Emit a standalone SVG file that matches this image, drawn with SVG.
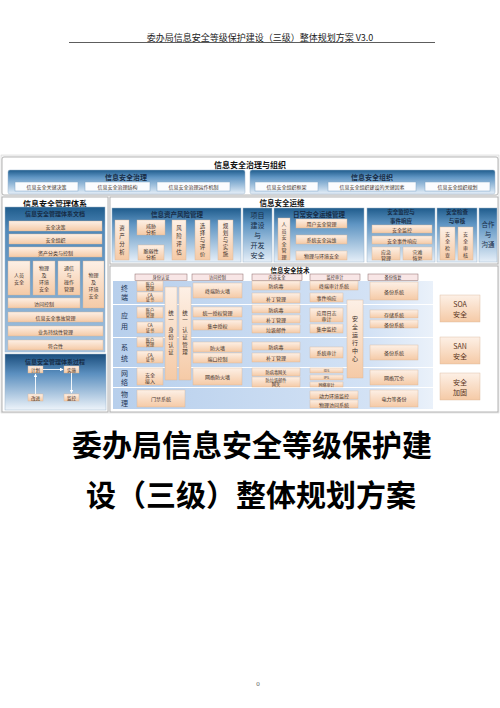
<svg xmlns="http://www.w3.org/2000/svg" width="500" height="708" viewBox="0 0 500 708">
<defs>
<linearGradient id="gPanel" x1="0" y1="0" x2="0" y2="1">
<stop offset="0" stop-color="#1f5c8c"/><stop offset="0.3" stop-color="#5f95c3"/><stop offset="1" stop-color="#e6eff8"/>
</linearGradient>
<linearGradient id="gMgmt" x1="0" y1="0" x2="0" y2="1">
<stop offset="0" stop-color="#1f5c8c"/><stop offset="0.15" stop-color="#4f88b9"/><stop offset="1" stop-color="#a9c6e2"/>
</linearGradient>
<linearGradient id="gProc" x1="0" y1="0" x2="0" y2="1">
<stop offset="0" stop-color="#1a4d7c"/><stop offset="0.35" stop-color="#5b8fbf"/><stop offset="1" stop-color="#eef4fa"/>
</linearGradient>
<linearGradient id="gPeach" x1="0" y1="0" x2="0" y2="1">
<stop offset="0" stop-color="#fdf0e6"/><stop offset="1" stop-color="#f5caa6"/>
</linearGradient>
<linearGradient id="gBand" x1="0" y1="0" x2="1" y2="0">
<stop offset="0" stop-color="#b7cfec"/><stop offset="0.8" stop-color="#d3e2f5"/><stop offset="1" stop-color="#eaf1fa"/>
</linearGradient>
<marker id="ar" viewBox="0 0 6 6" refX="5" refY="3" markerWidth="4" markerHeight="4" orient="auto"><path d="M0,0 L6,3 L0,6 z" fill="#ffffff"/></marker>
<style>
.fr{fill:#fff;stroke:#a3a3a3;stroke-width:.8}
.pn{fill:url(#gPanel);stroke:#9fb6cc;stroke-width:.5}
.pk{fill:url(#gPeach);stroke:#d8b498;stroke-width:.4}
.wb{fill:#fbfcfe;stroke:#7ea4c6;stroke-width:.5}
.band{fill:url(#gBand)}
.tab{fill:#f8e6e6;stroke:#8a6868;stroke-width:.5}
text{font-family:"Noto Sans CJK SC","Noto Sans",sans-serif;text-anchor:middle;dominant-baseline:central}
.s{font-size:5px;fill:#40302a}
.t{font-size:4.2px;fill:#40302a}
.h{font-size:7px;font-weight:bold;fill:#172c46}
.h8{font-size:8px;font-weight:bold;fill:#111}
.rl{font-size:7px;fill:#1d3354}
.big{font-size:7px;fill:#5a3320}
</style>
</defs>

<g id="page-header">
<text x="260" y="37" style="font-size:9px;fill:#222">委办局信息安全等级保护建设（三级）整体规划方案 V3.0</text>
<line x1="69" y1="42.5" x2="435" y2="42.5" stroke="#333" stroke-width="0.8"/>
</g>

<rect x="1" y="155" width="498" height="258" fill="#f4f4f4" stroke="#d0d0d0" stroke-width="0.5"/>

<g id="governance-org">
<rect class="fr" x="2" y="157" width="496" height="38" rx="2"/>
<text class="h8" x="250" y="164.5">信息安全治理与组织</text>
</g>
<g id="gov">
<rect class="pn" x="8" y="170" width="237" height="24" rx="2"/>
<text class="h" x="126" y="176.5">信息安全治理</text>
<rect class="wb" x="15" y="182" width="63" height="9"/><text class="s" x="46.5" y="186.5">信息安全关键决策</text>
<rect class="wb" x="85" y="182" width="65" height="9"/><text class="s" x="117.5" y="186.5">信息安全治理结构</text>
<rect class="wb" x="157" y="182" width="73" height="9"/><text class="s" x="193.5" y="186.5">信息安全治理运作机制</text>
</g>
<g id="org">
<rect class="pn" x="250" y="170" width="245" height="24" rx="2"/>
<text class="h" x="372" y="176.5">信息安全组织</text>
<rect class="wb" x="255" y="182" width="63" height="9"/><text class="s" x="286.5" y="186.5">信息安全组织框架</text>
<rect class="wb" x="328" y="182" width="88" height="9"/><text class="s" x="372" y="186.5">信息安全组织建设的关键因素</text>
<rect class="wb" x="425" y="182" width="65" height="9"/><text class="s" x="457.5" y="186.5">信息安全组织规划</text>
</g>

<g id="mgmt-system">
<rect class="fr" x="2" y="197" width="106" height="215"/>
<text class="h8" x="55" y="203.5">信息安全管理体系</text>
<rect x="5" y="207" width="100" height="145" fill="url(#gMgmt)" stroke="#9fb6cc" stroke-width=".5"/>
<text class="h" x="55" y="213" style="font-size:6px">信息安全管理体系文档</text>
<rect class="pk" x="9" y="221" width="93" height="10"/><text class="s" x="55.5" y="226">安全决策</text>
<rect class="pk" x="9" y="234" width="93" height="10"/><text class="s" x="55.5" y="239">安全组织</text>
<rect class="pk" x="9" y="247" width="93" height="10"/><text class="s" x="55.5" y="252">资产分类与控制</text>
<rect class="pk" x="8" y="261" width="22" height="34"/>
<text class="s"><tspan x="19" y="274">人员</tspan><tspan x="19" y="281">安全</tspan></text>
<rect class="pk" x="33" y="261" width="22" height="34"/>
<text class="s"><tspan x="44" y="267">物理</tspan><tspan x="44" y="274">及</tspan><tspan x="44" y="281">环境</tspan><tspan x="44" y="288">安全</tspan></text>
<rect class="pk" x="58" y="261" width="22" height="34"/>
<text class="s"><tspan x="69" y="267">通信</tspan><tspan x="69" y="274">与</tspan><tspan x="69" y="281">操作</tspan><tspan x="69" y="288">管理</tspan></text>
<rect class="pk" x="83" y="261" width="21" height="47"/>
<text class="s"><tspan x="93.5" y="274">物理</tspan><tspan x="93.5" y="281">及</tspan><tspan x="93.5" y="288">环境</tspan><tspan x="93.5" y="295">安全</tspan></text>
<rect class="pk" x="8" y="298" width="72" height="10"/><text class="s" x="44" y="303">访问控制</text>
<rect class="pk" x="8" y="312" width="95" height="10"/><text class="s" x="55.5" y="317">信息安全事故管理</text>
<rect class="pk" x="8" y="326" width="95" height="10"/><text class="s" x="55.5" y="331">业务持续性管理</text>
<rect class="pk" x="8" y="340" width="95" height="10"/><text class="s" x="55.5" y="345">符合性</text>
</g>

<g id="mgmt-process">
<rect x="5" y="354" width="101" height="56" fill="url(#gProc)" stroke="#9fb6cc" stroke-width=".5"/>
<text class="h" x="55" y="361" style="font-size:6px">信息安全管理体系过程</text>
<rect class="pk" x="28" y="366" width="15" height="7"/><text class="s" x="35.5" y="369.5" style="font-size:4.5px">计划</text>
<rect class="pk" x="64" y="366" width="15" height="7"/><text class="s" x="71.5" y="369.5" style="font-size:4.5px">实施</text>
<rect class="pk" x="28" y="394" width="15" height="7"/><text class="s" x="35.5" y="397.5" style="font-size:4.5px">改进</text>
<rect class="pk" x="64" y="394" width="15" height="7"/><text class="s" x="71.5" y="397.5" style="font-size:4.5px">监控</text>
</g>

<g id="connectors" fill="none" stroke="#ffffff" stroke-width="0.9">
<line x1="43" y1="369.5" x2="63" y2="369.5" marker-end="url(#ar)"/>
<line x1="71.5" y1="373" x2="71.5" y2="393" marker-end="url(#ar)"/>
<line x1="35.5" y1="394" x2="35.5" y2="374" marker-end="url(#ar)"/>
</g>

<g id="ops">
<rect class="fr" x="110" y="197" width="388" height="67"/>
<text class="h8" x="282" y="202.5" style="font-size:7.5px">信息安全运维</text>
</g>
<g id="risk">
<rect class="pn" x="112" y="208" width="129" height="54"/>
<text class="h" x="177" y="214" style="font-size:6.5px">信息资产风险管理</text>
<rect class="pk" x="115" y="220" width="14" height="40"/>
<text class="s" style="font-size:5.5px"><tspan x="122" y="228">资</tspan><tspan x="122" y="236">产</tspan><tspan x="122" y="244">分</tspan><tspan x="122" y="252">析</tspan></text>
<rect class="pk" x="137" y="220" width="28" height="15"/>
<text class="s"><tspan x="151" y="224.5">威胁</tspan><tspan x="151" y="230.5">分析</tspan></text>
<rect class="pk" x="138" y="245" width="26" height="15"/>
<text class="s"><tspan x="151" y="249.5">脆弱性</tspan><tspan x="151" y="255.5">分析</tspan></text>
<rect class="pk" x="172" y="220" width="14" height="40"/>
<text class="s" style="font-size:5.5px"><tspan x="179" y="228">风</tspan><tspan x="179" y="236">险</tspan><tspan x="179" y="244">评</tspan><tspan x="179" y="252">估</tspan></text>
<rect class="pk" x="195" y="220" width="15" height="40"/>
<text class="s" style="font-size:5.5px"><tspan x="202.5" y="226">选</tspan><tspan x="202.5" y="233">择</tspan><tspan x="202.5" y="240">与</tspan><tspan x="202.5" y="247">评</tspan><tspan x="202.5" y="254">价</tspan></text>
<rect class="pk" x="218" y="220" width="15" height="40"/>
<text class="s" style="font-size:5.5px"><tspan x="225.5" y="226">规</tspan><tspan x="225.5" y="233">划</tspan><tspan x="225.5" y="240">与</tspan><tspan x="225.5" y="247">实</tspan><tspan x="225.5" y="254">施</tspan></text>
</g>
<g id="project-dev">
<rect class="pn" x="243" y="208" width="29" height="54"/>
<text class="h" style="font-size:7px;font-weight:normal"><tspan x="257.5" y="215">项目</tspan><tspan x="257.5" y="225">建设</tspan><tspan x="257.5" y="235">与</tspan><tspan x="257.5" y="245">开发</tspan><tspan x="257.5" y="255">安全</tspan></text>
</g>
<g id="daily-ops">
<rect class="pn" x="274" y="208" width="90" height="54"/>
<text class="h" x="319" y="214" style="font-size:6.5px">日常安全运维管理</text>
<rect class="pk" x="278" y="218" width="12" height="42"/>
<text class="s"><tspan x="284" y="223">人</tspan><tspan x="284" y="229.5">员</tspan><tspan x="284" y="236">安</tspan><tspan x="284" y="242.5">全</tspan><tspan x="284" y="249">管</tspan><tspan x="284" y="255.5">理</tspan></text>
<rect class="pk" x="296" y="219" width="51" height="9"/><text class="s" x="321.5" y="223.5">用户安全管理</text>
<rect class="pk" x="296" y="235" width="51" height="9"/><text class="s" x="321.5" y="239.5">系统安全运维</text>
<rect class="pk" x="296" y="251" width="51" height="9"/><text class="s" x="321.5" y="255.5">物理与环境安全</text>
</g>
<g id="monitor">
<rect class="pn" x="367" y="208" width="68" height="54"/>
<text class="h" x="401" y="212.2" style="font-size:5.5px">安全监控与</text>
<text class="h" x="401" y="220.6" style="font-size:5.5px">事件响应</text>
<rect class="pk" x="372" y="225" width="60" height="8"/><text class="s" x="402" y="229">安全监控</text>
<rect class="pk" x="372" y="236" width="60" height="8"/><text class="s" x="402" y="240">安全事件响应</text>
<rect class="pk" x="372" y="247" width="28" height="13"/>
<text class="s"><tspan x="386" y="250.5">应急</tspan><tspan x="386" y="256.5">管理</tspan></text>
<rect class="pk" x="403" y="247" width="29" height="13"/>
<text class="s"><tspan x="417.5" y="250.5">灾难</tspan><tspan x="417.5" y="256.5">恢复</tspan></text>
</g>
<g id="audit">
<rect class="pn" x="437" y="208" width="40" height="54"/>
<text class="h" x="457" y="212.2" style="font-size:5.5px">安全检查</text>
<text class="h" x="457" y="220.6" style="font-size:5.5px">与审核</text>
<rect class="pk" x="440" y="227" width="15" height="33"/>
<text class="s"><tspan x="447.5" y="233">安</tspan><tspan x="447.5" y="240">全</tspan><tspan x="447.5" y="247">检</tspan><tspan x="447.5" y="254">查</tspan></text>
<rect class="pk" x="458" y="227" width="15" height="33"/>
<text class="s"><tspan x="465.5" y="233">安</tspan><tspan x="465.5" y="240">全</tspan><tspan x="465.5" y="247">审</tspan><tspan x="465.5" y="254">核</tspan></text>
</g>
<g id="communicate">
<rect class="pn" x="479" y="208" width="18" height="54"/>
<text class="h" style="font-size:6.5px;font-weight:normal"><tspan x="488" y="224">合作</tspan><tspan x="488" y="234">与</tspan><tspan x="488" y="244">沟通</tspan></text>
</g>

<g id="tech">
<rect class="fr" x="110" y="266" width="388" height="146"/>
<text class="h8" x="290" y="269.5" style="font-size:6.5px">信息安全技术</text>
<rect class="tab" x="135" y="274" width="52" height="6.5"/><text class="t" x="161" y="277.3">身份认证</text>
<rect class="tab" x="192" y="274" width="51" height="6.5"/><text class="t" x="217.5" y="277.3">访问控制</text>
<rect class="tab" x="252" y="274" width="50" height="6.5"/><text class="t" x="277" y="277.3">内容安全</text>
<rect class="tab" x="310" y="274" width="50" height="6.5"/><text class="t" x="335" y="277.3">监控审计</text>
<rect class="tab" x="368" y="274" width="50" height="6.5"/><text class="t" x="393" y="277.3">备份恢复</text>
</g>
<g id="rows">
<rect class="band" x="113" y="281" width="320" height="23"/>
<rect class="band" x="113" y="305" width="320" height="32"/>
<rect class="band" x="113" y="338" width="320" height="29"/>
<rect class="band" x="113" y="368" width="320" height="19"/>
<rect class="band" x="113" y="388" width="320" height="21"/>
<text class="rl"><tspan x="124.5" y="288">终</tspan><tspan x="124.5" y="297">端</tspan></text>
<text class="rl"><tspan x="124.5" y="315">应</tspan><tspan x="124.5" y="326">用</tspan></text>
<text class="rl"><tspan x="124.5" y="347">系</tspan><tspan x="124.5" y="358">统</tspan></text>
<text class="rl"><tspan x="124.5" y="373">网</tspan><tspan x="124.5" y="382">络</tspan></text>
<text class="rl"><tspan x="124.5" y="394">物</tspan><tspan x="124.5" y="403">理</tspan></text>
</g>
<g id="identity">
<rect class="pk" x="137" y="281" width="26" height="10"/><text class="t"><tspan x="150" y="283.7">账户</tspan><tspan x="150" y="288.3">管理</tspan></text>
<rect class="pk" x="137" y="292" width="26" height="10"/><text class="t"><tspan x="150" y="294.7">CA</tspan><tspan x="150" y="299.3">证书</tspan></text>
<rect class="pk" x="137" y="307" width="26" height="11"/><text class="t"><tspan x="150" y="310.2">账户</tspan><tspan x="150" y="314.8">管理</tspan></text>
<rect class="pk" x="137" y="322" width="26" height="11"/><text class="t"><tspan x="150" y="325.2">CA</tspan><tspan x="150" y="329.8">证书</tspan></text>
<rect class="pk" x="137" y="337" width="26" height="10"/><text class="t"><tspan x="150" y="339.7">账户</tspan><tspan x="150" y="344.3">管理</tspan></text>
<rect class="pk" x="137" y="351" width="26" height="12"/><text class="t"><tspan x="150" y="354.7">CA</tspan><tspan x="150" y="359.3">证书</tspan></text>
<rect class="pk" x="137" y="368" width="26" height="17"/><text class="s"><tspan x="150" y="373.5">安全</tspan><tspan x="150" y="379.5">接入</tspan></text>
<rect class="pk" x="165" y="287" width="12" height="93"/>
<text class="s" style="font-size:5.5px"><tspan x="171" y="313">统</tspan><tspan x="171" y="320">一</tspan><tspan x="171" y="330">身</tspan><tspan x="171" y="337">份</tspan><tspan x="171" y="345">认</tspan><tspan x="171" y="352">证</tspan></text>
<rect class="pk" x="179" y="287" width="12" height="93"/>
<text class="s" style="font-size:5.5px"><tspan x="185" y="313">统</tspan><tspan x="185" y="320">一</tspan><tspan x="185" y="330">认</tspan><tspan x="185" y="337">证</tspan><tspan x="185" y="345">管</tspan><tspan x="185" y="352">理</tspan></text>
<rect class="pk" x="137" y="390" width="48" height="17"/><text class="s" x="161" y="398.5">门禁系统</text>
</g>
<g id="access">
<rect class="pk" x="193" y="283" width="49" height="15"/><text class="s" x="217.5" y="290.5">终端防火墙</text>
<rect class="pk" x="193" y="307" width="49" height="10"/><text class="s" x="217.5" y="312">统一授权管理</text>
<rect class="pk" x="193" y="320" width="49" height="10"/><text class="s" x="217.5" y="325">集中授权</text>
<rect class="pk" x="193" y="342" width="49" height="10"/><text class="s" x="217.5" y="347">防火墙</text>
<rect class="pk" x="193" y="353" width="49" height="10"/><text class="s" x="217.5" y="358">端口控制</text>
<rect class="pk" x="193" y="368" width="49" height="17"/><text class="s" x="217.5" y="376.5">网络防火墙</text>
</g>
<g id="content">
<rect class="pk" x="252" y="281" width="48" height="9"/><text class="s" x="276" y="285.5">防病毒</text>
<rect class="pk" x="252" y="293" width="48" height="10"/><text class="s" x="276" y="298">补丁管理</text>
<rect class="pk" x="252" y="305" width="48" height="8"/><text class="s" x="276" y="309">防病毒</text>
<rect class="pk" x="252" y="315" width="48" height="8"/><text class="s" x="276" y="319">补丁管理</text>
<rect class="pk" x="252" y="325" width="48" height="8"/><text class="s" x="276" y="329">垃圾邮件</text>
<rect class="pk" x="252" y="342" width="48" height="8"/><text class="s" x="276" y="346">防病毒</text>
<rect class="pk" x="252" y="353" width="48" height="9"/><text class="s" x="276" y="357.5">补丁管理</text>
<rect class="pk" x="252" y="368" width="48" height="8"/><text class="t" x="276" y="372">防病毒网关</text>
<rect class="pk" x="252" y="377" width="48" height="10"/><text class="t"><tspan x="276" y="379.7">防垃圾邮件</tspan><tspan x="276" y="384.3">网关</tspan></text>
</g>
<g id="audit-tech">
<rect class="pk" x="310" y="281" width="48" height="9"/><text class="s" x="334" y="285.5">终端审计系统</text>
<rect class="pk" x="310" y="293" width="33" height="9"/><text class="s" x="326.5" y="297.5">事件响应</text>
<rect class="pk" x="310" y="308" width="33" height="14"/><text class="s"><tspan x="326.5" y="312">应用日志</tspan><tspan x="326.5" y="318">审计</tspan></text>
<rect class="pk" x="310" y="324" width="33" height="9"/><text class="s" x="326.5" y="328.5">集中监控</text>
<rect class="pk" x="310" y="347" width="33" height="11"/><text class="s" x="326.5" y="352.5">系统审计</text>
<rect class="pk" x="310" y="368" width="33" height="5"/><text class="s" x="326.5" y="370.5" style="font-size:3.5px">IDS</text>
<rect class="pk" x="310" y="375" width="33" height="5"/><text class="s" x="326.5" y="377.5" style="font-size:3.5px">IPS</text>
<rect class="pk" x="310" y="382" width="33" height="5"/><text class="s" x="326.5" y="384.5" style="font-size:4px">网络审计</text>
<rect class="pk" x="310" y="391" width="48" height="8"/><text class="s" x="334" y="395">动力环境监控</text>
<rect class="pk" x="310" y="400" width="48" height="8"/><text class="s" x="334" y="404">物理访问系统</text>
<rect class="pk" x="347" y="300" width="16" height="78"/>
<text class="s" style="font-size:6px"><tspan x="355" y="318">安</tspan><tspan x="355" y="326">全</tspan><tspan x="355" y="334">运</tspan><tspan x="355" y="342">行</tspan><tspan x="355" y="350">中</tspan><tspan x="355" y="358">心</tspan></text>
</g>
<g id="backup">
<rect class="pk" x="370" y="282" width="48" height="18"/><text class="s" x="394" y="291">备份系统</text>
<rect class="pk" x="370" y="310" width="48" height="8"/><text class="s" x="394" y="314">存储系统</text>
<rect class="pk" x="370" y="320" width="48" height="8"/><text class="s" x="394" y="324">备份系统</text>
<rect class="pk" x="370" y="345" width="48" height="15"/><text class="s" x="394" y="352.5">备份系统</text>
<rect class="pk" x="370" y="370" width="48" height="15"/><text class="s" x="394" y="377.5">网络冗余</text>
<rect class="pk" x="370" y="390" width="48" height="17"/><text class="s" x="394" y="398.5">电力等备份</text>
</g>
<g id="soa">
<rect class="pk" x="440" y="295" width="40" height="27"/><text class="big"><tspan x="460" y="304">SOA</tspan><tspan x="460" y="314">安全</tspan></text>
</g>
<g id="san">
<rect class="pk" x="440" y="337" width="40" height="27"/><text class="big"><tspan x="460" y="346">SAN</tspan><tspan x="460" y="356">安全</tspan></text>
</g>
<g id="harden">
<rect class="pk" x="440" y="373" width="40" height="27"/><text class="big"><tspan x="460" y="382">安全</tspan><tspan x="460" y="392">加固</tspan></text>
</g>

<g id="title">
<text x="252" y="443" style="font-size:30px;font-weight:bold;fill:#000">委办局信息安全等级保护建</text>
<text x="251" y="493" style="font-size:30px;font-weight:bold;fill:#000">设（三级）整体规划方案</text>
</g>
<text x="258" y="684" style="font-size:7px;fill:#666;font-family:'Liberation Serif',serif">0</text>
</svg>
